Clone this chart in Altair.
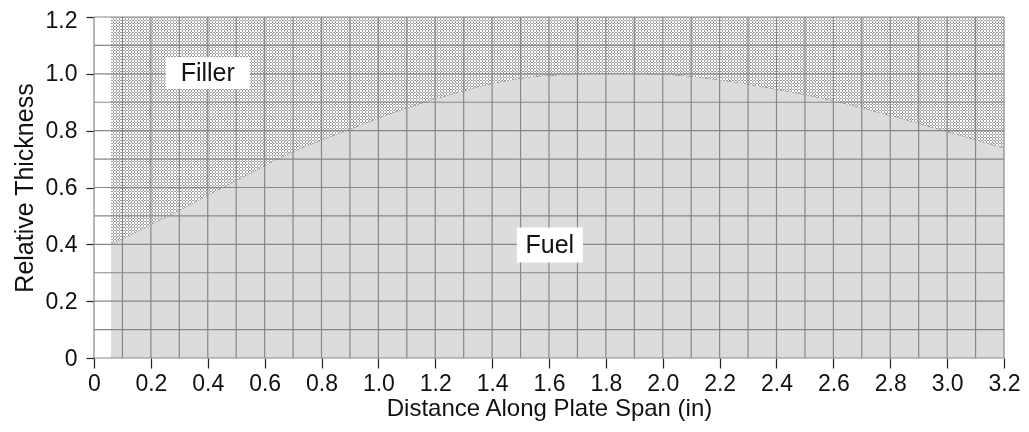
import altair as alt
import pandas as pd

# ---- data ----
span_in = [0.06, 0.2, 0.3, 0.5, 0.7, 0.9, 1.1, 1.3, 1.4, 1.6, 1.8, 2.0, 2.2, 2.4, 2.6, 2.8, 3.0, 3.2]
thickness = [0.40, 0.47, 0.52, 0.625, 0.725, 0.805, 0.88, 0.94, 0.965, 0.994, 1.0, 0.998, 0.978, 0.945, 0.905, 0.853, 0.796, 0.738]

x_ticks = [0, 0.2, 0.4, 0.6, 0.8, 1.0, 1.2, 1.4, 1.6, 1.8, 2.0, 2.2, 2.4, 2.6, 2.8, 3.0, 3.2]
y_ticks = [0, 0.2, 0.4, 0.6, 0.8, 1.0, 1.2]
x_grid = [0, 0.1, 0.2, 0.3, 0.4, 0.5, 0.6, 0.7, 0.8, 0.9, 1.0, 1.1, 1.2, 1.3, 1.4, 1.5, 1.6,
          1.7, 1.8, 1.9, 2.0, 2.1, 2.2, 2.3, 2.4, 2.5, 2.6, 2.7, 2.8, 2.9, 3.0, 3.1, 3.2]
y_grid = [0, 0.1, 0.2, 0.3, 0.4, 0.5, 0.6, 0.7, 0.8, 0.9, 1.0, 1.1, 1.2]

labels = ["Filler", "Fuel"]
label_x = [0.40, 1.603]
label_y = [1.003, 0.398]

W, H = 910, 341
X_MAX, Y_MAX = 3.2, 1.2

df = pd.DataFrame({"span": span_in, "thk": thickness})
grid_x = pd.DataFrame({"g": x_grid})
grid_y = pd.DataFrame({"g": y_grid})
ann = pd.DataFrame({"label": labels, "x": label_x, "y": label_y})

# ---- texture (style only): striped gradients combined into a checker ----
def stripes(length_px, horizontal, period=3.0, c1="#000000", c2="#ffffff"):
    stops = []
    n = int(length_px / period) + 1
    for i in range(n):
        a = min(i * period / length_px, 1.0)
        b = min((i + 0.5) * period / length_px, 1.0)
        c = min((i + 1) * period / length_px, 1.0)
        stops += [{"offset": a, "color": c1}, {"offset": b, "color": c1},
                  {"offset": b, "color": c2}, {"offset": c, "color": c2}]
    g = {"gradient": "linear", "stops": stops, "x1": 0, "y1": 0}
    if horizontal:
        g.update({"x2": 1, "y2": 0})
    else:
        g.update({"x2": 0, "y2": 1})
    return g

px_per_x = W / X_MAX
px_per_y = H / Y_MAX
bbox_w = (X_MAX - min(span_in)) * px_per_x
bbox_h = (Y_MAX - min(thickness)) * px_per_y

xs = alt.Scale(domain=[0, X_MAX], nice=False, zero=False)
ys = alt.Scale(domain=[0, Y_MAX], nice=False)

lab_expr = "datum.value == 0 ? '0' : format(datum.value, '.1f')"
x_axis = alt.Axis(values=x_ticks, labelExpr=lab_expr, grid=False, domain=False,
                  tickSize=10, tickColor="#222222", tickWidth=1.2, labelPadding=4,
                  labelFlush=False, labelOverlap=False,
                  title="Distance Along Plate Span (in)", titlePadding=1,
                  titleFontSize=24)
y_axis = alt.Axis(values=y_ticks, labelExpr=lab_expr, grid=False, domain=False,
                  tickSize=8, tickColor="#222222", tickWidth=1.2, labelPadding=9,
                  labelFlush=False, labelOverlap=False,
                  labelOffset={"condition": {"test": "datum.value >= 1.19", "value": 3}, "value": 0},
                  title="Relative Thickness", titlePadding=8)

base = alt.Chart(df)

fuel = base.mark_area(fill="#dcdcdc", interpolate="monotone").encode(
    x=alt.X("span:Q", scale=xs, axis=x_axis),
    y=alt.Y("thk:Q", scale=ys, axis=y_axis, stack=None),
)

def filler(**mark_kw):
    return base.mark_area(interpolate="monotone", **mark_kw).encode(
        x=alt.X("span:Q", scale=xs),
        y=alt.Y("thk:Q", scale=ys, stack=None),
        y2=alt.datum(Y_MAX),
    )

filler1 = filler(fill=stripes(bbox_w, True))
filler2 = filler(fill=stripes(bbox_h, False), blend="difference")
filler3 = filler(fill="#ffffff", opacity=0.62)

vgrid = alt.Chart(grid_x).mark_rule(color="#888888", strokeWidth=1.2).encode(
    x=alt.X("g:Q", scale=xs)
)
hgrid = alt.Chart(grid_y).mark_rule(color="#888888", strokeWidth=1.2).encode(
    y=alt.Y("g:Q", scale=ys)
)

box_filler = alt.Chart(ann).transform_filter("datum.label == 'Filler'").mark_point(
    shape="M-2.625,-1H2.625V1H-2.625Z", size=1024, filled=True, fill="#ffffff",
    opacity=1, strokeWidth=0
).encode(x=alt.X("x:Q", scale=xs), y=alt.Y("y:Q", scale=ys))

box_fuel = alt.Chart(ann).transform_filter("datum.label == 'Fuel'").mark_point(
    shape="M-1.886,-1H1.886V1H-1.886Z", size=1225, filled=True, fill="#ffffff",
    opacity=1, strokeWidth=0
).encode(x=alt.X("x:Q", scale=xs), y=alt.Y("y:Q", scale=ys))

txt = alt.Chart(ann).mark_text(font="Liberation Sans", fontSize=25, color="#111111",
                               align="center", baseline="middle").encode(
    x=alt.X("x:Q", scale=xs), y=alt.Y("y:Q", scale=ys), text="label:N"
)

chart = alt.layer(fuel, filler1, filler2, filler3, vgrid, hgrid, box_filler, box_fuel, txt).properties(
    width=W, height=H,
    autosize=alt.AutoSizeParams(type="none"),
    padding={"left": 86, "top": 9, "right": 17, "bottom": 64},
    background="#ffffff",
).configure_view(stroke=None).configure_axis(
    labelFont="Liberation Sans", labelFontSize=23, labelColor="#111111",
    titleFont="Liberation Sans", titleFontSize=25, titleFontWeight="normal",
    titleColor="#111111",
)

chart.save("out.html", embed_options={"renderer": "svg", "actions": False})
